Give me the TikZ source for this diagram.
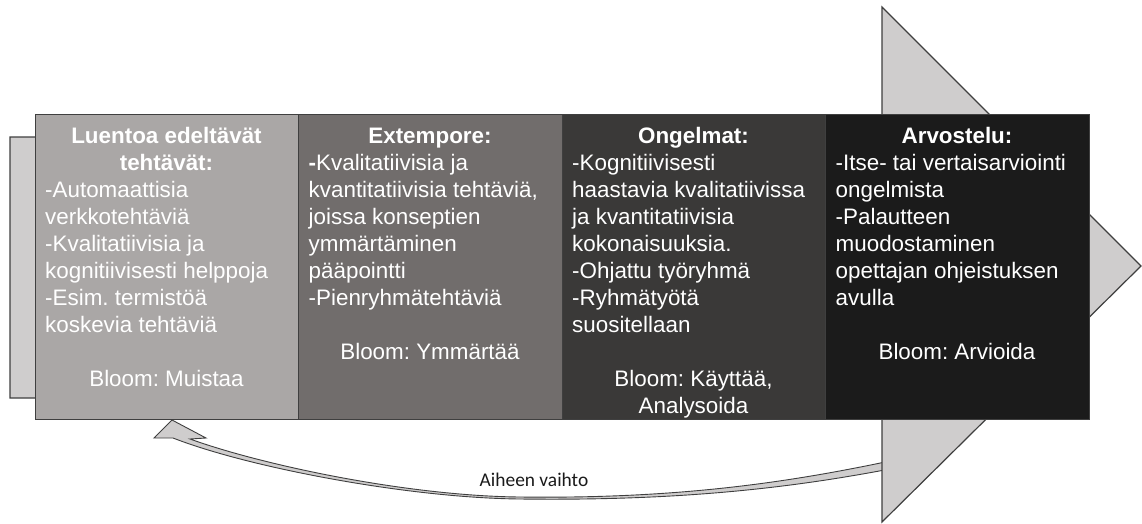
\documentclass[tikz,border=0pt]{standalone}
\usepackage{fontspec}
\setmainfont{Liberation Sans}
\newfontfamily\labelfont{Carlito}
\definecolor{arrowfill}{HTML}{CFCDCD}
\definecolor{edge}{HTML}{3F3F3F}
\definecolor{stageA}{HTML}{AAA7A6}
\definecolor{stageB}{HTML}{716D6C}
\definecolor{stageC}{HTML}{3A3938}
\definecolor{stageD}{HTML}{1B1B1B}
\definecolor{captext}{HTML}{1A1A1A}
\frenchspacing

\begin{document}
\begin{tikzpicture}[x=1pt,y=-1pt,
  bigarrow/.style={fill=arrowfill,draw=edge,line width=1.2pt,line join=miter},
  stagebox/.style={draw=edge,line width=1pt,minimum width=263.5pt,minimum height=304pt,
    anchor=north west,inner sep=0pt,outer sep=0pt},
  stagetext/.style={text=white,inner sep=0pt,font=\fontsize{22.4}{27}\selectfont},
  stagetitle/.style={stagetext,font=\fontsize{22.4}{27}\selectfont\bfseries,anchor=base},
  stagebody/.style={stagetext,anchor=base west},
  stagebloom/.style={stagetext,anchor=base},
  backarrow/.style={fill=arrowfill,draw=edge,line width=0.9pt,line join=miter},
  swaplabel/.style={text=captext,inner sep=0pt,font=\labelfont\fontsize{19.4}{23}\selectfont,anchor=base}]
\useasboundingbox (0,0) rectangle (1142,524);

% curved return arrow (drawn first, it runs under the big arrow head)
\draw[backarrow] (172,420) -- (206,438) -- (190,439)
  .. controls (265,466) and (410,496) .. (520,497)
  .. controls (680,499) and (790,482) .. (890,461)
  -- (890,469)
  .. controls (790,488) and (680,501) .. (520,499)
  .. controls (410,498) and (250,468) .. (173,438)
  -- (154,438) -- cycle;

% big process arrow
\draw[bigarrow] (10,137) -- (882,137) -- (882,7) -- (1141,266) -- (882,522)
  -- (882,398) -- (10,398) -- cycle;

% the four stages
\node[stagebox,fill=stageA] (s1) at (35,115) {};
\node[stagebox,fill=stageB] (s2) at (298.5,115) {};
\node[stagebox,fill=stageC] (s3) at (562,115) {};
\node[stagebox,fill=stageD] (s4) at (825.5,115) {};

% stage 1
\node[stagetitle] (t1a) at (166.5,143) {Luentoa edeltävät};
\node[stagetitle] (t1b) at (166.5,170) {tehtävät:};
\foreach \txt [count=\i from 2] in {-Automaattisia,verkkotehtäviä,-Kvalitatiivisia ja,
    kognitiivisesti helppoja,-Esim. termistöä,koskevia tehtäviä}
  \node[stagebody] (b1\i) at (45,143+27*\i) {\txt};
\node[stagebloom] (m1) at (166.5,386) {Bloom: Muistaa};

% stage 2
\node[stagetitle] (t2) at (430,143) {Extempore:};
\node[stagebody] (b21) at (308.5,170) {{\bfseries -}Kvalitatiivisia ja};
\foreach \txt [count=\i from 2] in {{kvantitatiivisia tehtäviä,},joissa konseptien,
    ymmärtäminen,pääpointti,-Pienryhmätehtäviä}
  \node[stagebody] (b2\i) at (308.5,143+27*\i) {\txt};
\node[stagebloom] (m2) at (430,359) {Bloom: Ymmärtää};

% stage 3
\node[stagetitle] (t3) at (693.5,143) {Ongelmat:};
\foreach \txt [count=\i from 1] in {-Kognitiivisesti,haastavia kvalitatiivissa,
    ja kvantitatiivisia,kokonaisuuksia.,-Ohjattu työryhmä,-Ryhmätyötä,suositellaan}
  \node[stagebody] (b3\i) at (572,143+27*\i) {\txt};
\node[stagebloom] (m3a) at (693.5,386) {Bloom: Käyttää,};
\node[stagebloom] (m3b) at (693.5,413) {Analysoida};

% stage 4
\node[stagetitle] (t4) at (957,143) {Arvostelu:};
\foreach \txt [count=\i from 1] in {-Itse- tai vertaisarviointi,ongelmista,-Palautteen,
    muodostaminen,opettajan ohjeistuksen,avulla}
  \node[stagebody] (b4\i) at (835.5,143+27*\i) {\txt};
\node[stagebloom] (m4) at (957,359) {Bloom: Arvioida};

% label of the return arrow
\node[swaplabel] (swap) at (534,486) {Aiheen vaihto};
\end{tikzpicture}
\end{document}
